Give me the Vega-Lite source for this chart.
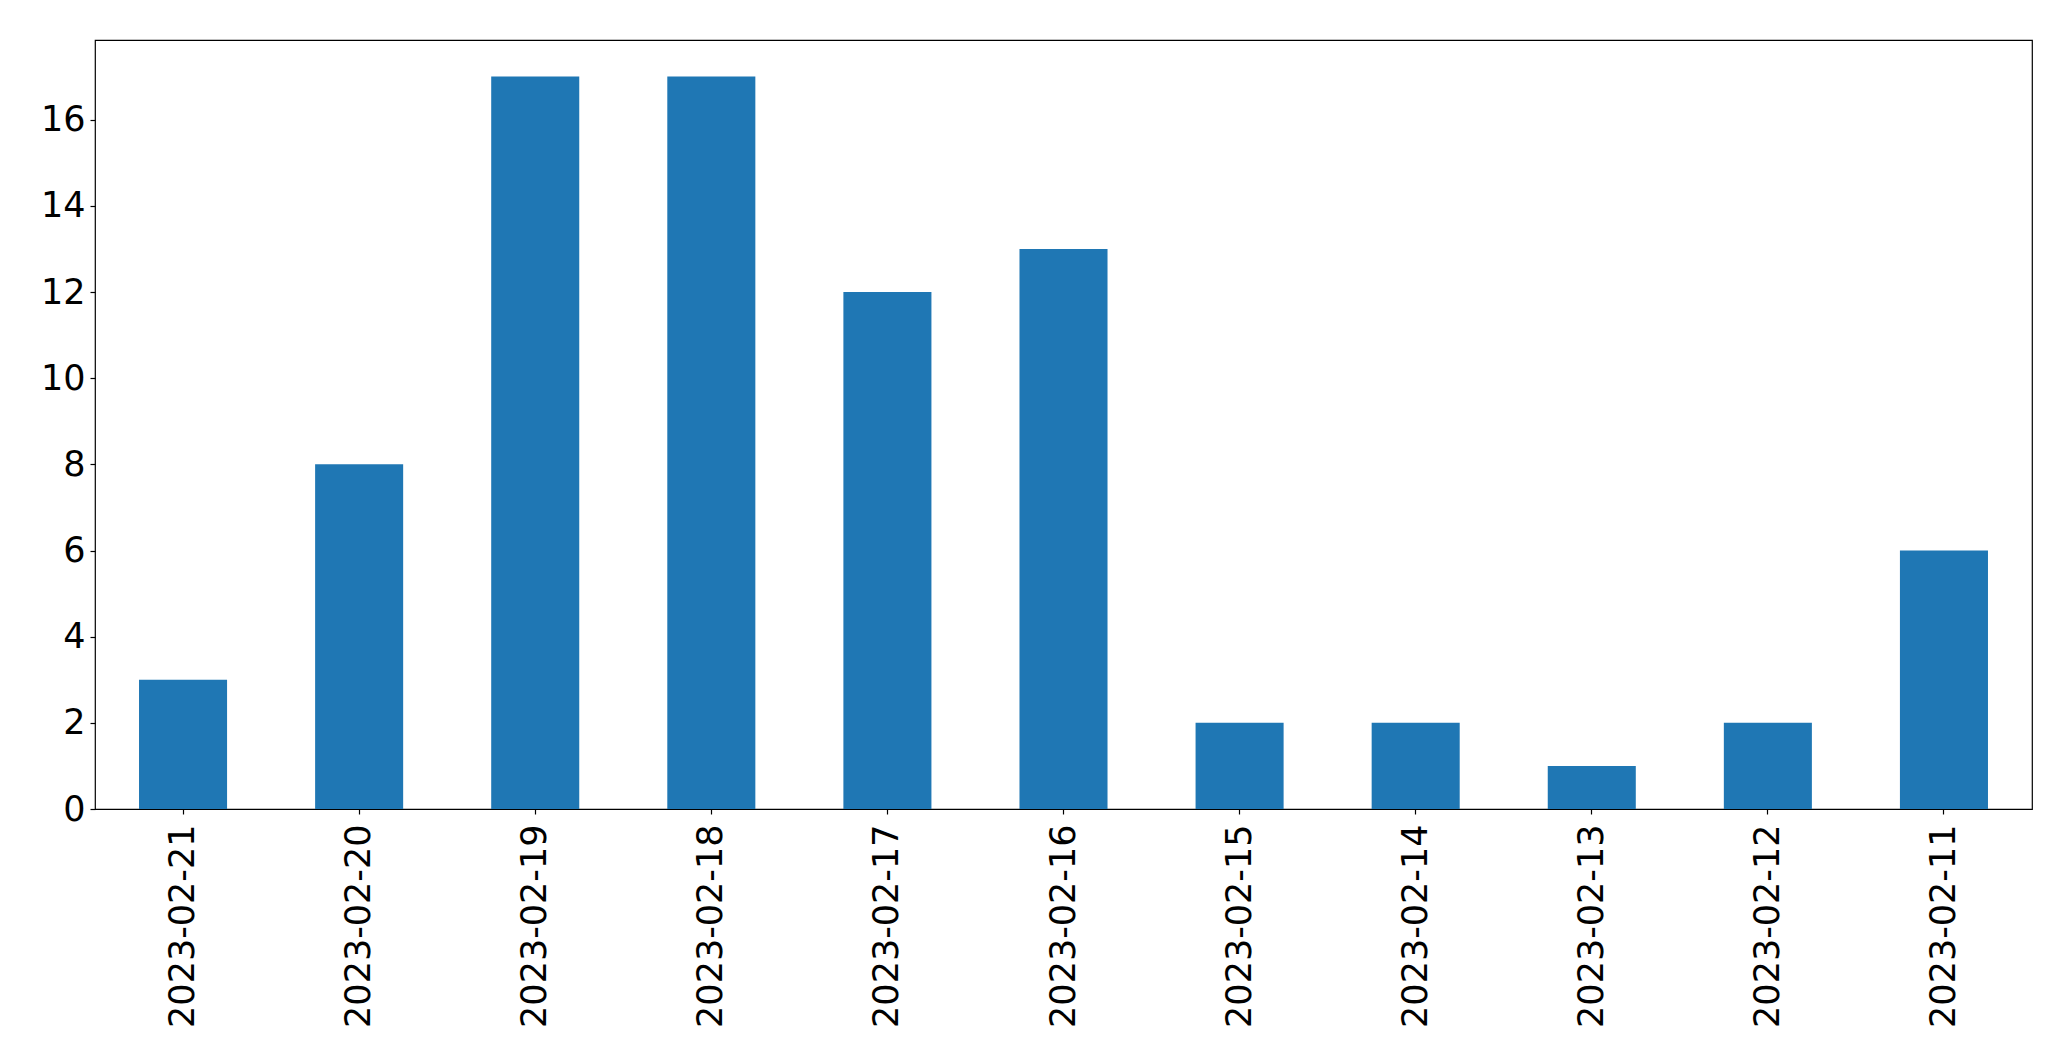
{
  "$schema": "https://vega.github.io/schema/vega-lite/v6.json",
  "width": 1937,
  "height": 769,
  "autosize": {"type": "none"},
  "padding": {"left": 95, "top": 40, "right": 39, "bottom": 252},
  "background": "white",
  "config": {
    "view": {"stroke": "black", "strokeWidth": 1.2},
    "font": "DejaVu Sans",
    "axis": {
      "labelFont": "DejaVu Sans",
      "labelFontSize": 35,
      "labelColor": "black",
      "labelLimit": 0,
      "labelOverlap": false,
      "tickColor": "black",
      "tickSize": 5,
      "tickWidth": 1.2,
      "domain": false,
      "grid": false,
      "title": null
    }
  },
  "data": {
    "values": [
      {"date": "2023-02-21", "count": 3},
      {"date": "2023-02-20", "count": 8},
      {"date": "2023-02-19", "count": 17},
      {"date": "2023-02-18", "count": 17},
      {"date": "2023-02-17", "count": 12},
      {"date": "2023-02-16", "count": 13},
      {"date": "2023-02-15", "count": 2},
      {"date": "2023-02-14", "count": 2},
      {"date": "2023-02-13", "count": 1},
      {"date": "2023-02-12", "count": 2},
      {"date": "2023-02-11", "count": 6}
    ]
  },
  "mark": {"type": "bar", "color": "#1f77b4"},
  "encoding": {
    "x": {
      "field": "date",
      "type": "nominal",
      "sort": null,
      "scale": {"paddingInner": 0.5, "paddingOuter": 0.25},
      "axis": {"labelAngle": -90, "labelAlign": "right", "labelBaseline": "middle", "labelPadding": 10}
    },
    "y": {
      "field": "count",
      "type": "quantitative",
      "scale": {"domain": [0, 17.85], "nice": false},
      "axis": {"values": [0, 2, 4, 6, 8, 10, 12, 14, 16], "labelPadding": 5}
    }
  }
}
